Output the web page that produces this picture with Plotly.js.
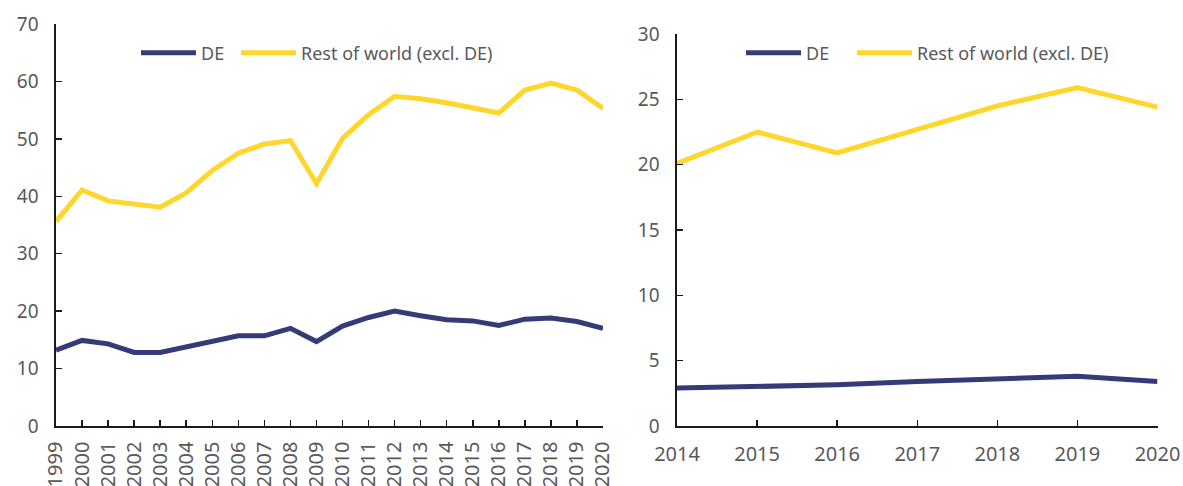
<!DOCTYPE html>
<html>
<head>
<meta charset="utf-8">
<script src="https://cdn.plot.ly/plotly-3.0.1.min.js"></script>
<style>html,body{margin:0;padding:0;background:#fff}#chart{width:1183px;height:486px}</style>
</head>
<body>
<div id="chart"></div>
<script>
// Left panel
const yearsLeft = [1999,2000,2001,2002,2003,2004,2005,2006,2007,2008,2009,2010,2011,2012,2013,2014,2015,2016,2017,2018,2019,2020];
const deLeft = [13.2,14.9,14.3,12.8,12.8,13.8,14.9,15.7,15.7,17.0,14.7,17.4,18.9,20.0,19.2,18.5,18.3,17.5,18.6,18.8,18.2,17.0];
const rowLeft = [35.6,41.1,39.2,38.6,38.1,40.6,44.5,47.5,49.1,49.7,42.2,50.1,54.2,57.4,57.0,56.3,55.5,54.5,58.5,59.7,58.5,55.3];
// Right panel
const yearsRight = [2014,2015,2016,2017,2018,2019,2020];
const deRight = [2.9,3.05,3.15,3.4,3.6,3.8,3.4];
const rowRight = [20.1,22.5,20.9,22.7,24.5,25.9,24.4];

const seriesNames = ['DE', 'Rest of world (excl. DE)'];
const navy = '#343C78';
const yellow = '#FFD62C';
const textColor = '#595959';
const fontFam = '"Noto Sans", "Open Sans", sans-serif';

const traces = [
  {x: yearsLeft, y: deLeft, name: seriesNames[0], type: 'scatter', mode: 'lines', line: {color: navy, width: 5}, xaxis: 'x', yaxis: 'y', legend: 'legend', showlegend: true},
  {x: yearsLeft, y: rowLeft, name: seriesNames[1], type: 'scatter', mode: 'lines', line: {color: yellow, width: 5}, xaxis: 'x', yaxis: 'y', legend: 'legend2', showlegend: true},
  {x: yearsRight, y: deRight, name: seriesNames[0], type: 'scatter', mode: 'lines', line: {color: navy, width: 5}, xaxis: 'x2', yaxis: 'y2', legend: 'legend3', showlegend: true},
  {x: yearsRight, y: rowRight, name: seriesNames[1], type: 'scatter', mode: 'lines', line: {color: yellow, width: 5}, xaxis: 'x2', yaxis: 'y2', legend: 'legend4', showlegend: true}
];

const W = 1183, H = 486;
const axisCommon = {
  showgrid: false, zeroline: false, showline: true, linecolor: '#1a1a1a', linewidth: 1.6,
  ticks: 'inside', ticklen: 6, tickcolor: '#1a1a1a', tickwidth: 1.5, fixedrange: true
};
const xFont = {family: fontFam, size: 20, color: textColor};
const yFont = {family: fontFam, size: 19, color: textColor};
const legendCommon = {
  orientation: 'h', yanchor: 'middle', xanchor: 'left', bgcolor: 'rgba(0,0,0,0)',
  font: {family: fontFam, size: 18, color: textColor}, itemwidth: 55, y: (H-53)/H, visible: true
};

const layout = {
  width: W, height: H,
  margin: {l: 0, r: 0, t: 0, b: 0},
  paper_bgcolor: '#fff', plot_bgcolor: '#fff',
  hovermode: false,
  showlegend: true,
  xaxis: Object.assign({}, axisCommon, {domain: [56/W, 603/W], range: [1999, 2020], dtick: 1, tick0: 1999, tickangle: -90, tickfont: xFont, ticklabelstandoff: 6, anchor: 'y'}),
  yaxis: Object.assign({}, axisCommon, {domain: [(H-426)/H, (H-24)/H], range: [0, 70], dtick: 10, tickfont: yFont, ticklabelstandoff: 12, anchor: 'x'}),
  xaxis2: Object.assign({}, axisCommon, {domain: [677/W, 1157.5/W], range: [2014, 2020], dtick: 1, tick0: 2014, tickfont: xFont, ticklabelstandoff: 9, anchor: 'y2'}),
  yaxis2: Object.assign({}, axisCommon, {domain: [(H-426)/H, (H-34)/H], range: [0, 30], dtick: 5, tickfont: yFont, ticklabelstandoff: 12, anchor: 'x2'}),
  legend: Object.assign({}, legendCommon, {x: 136/W}),
  legend2: Object.assign({}, legendCommon, {x: 236/W}),
  legend3: Object.assign({}, legendCommon, {x: 741/W}),
  legend4: Object.assign({}, legendCommon, {x: 852/W})
};

Plotly.newPlot('chart', traces, layout, {displayModeBar: false, staticPlot: true});
</script>
</body>
</html>
